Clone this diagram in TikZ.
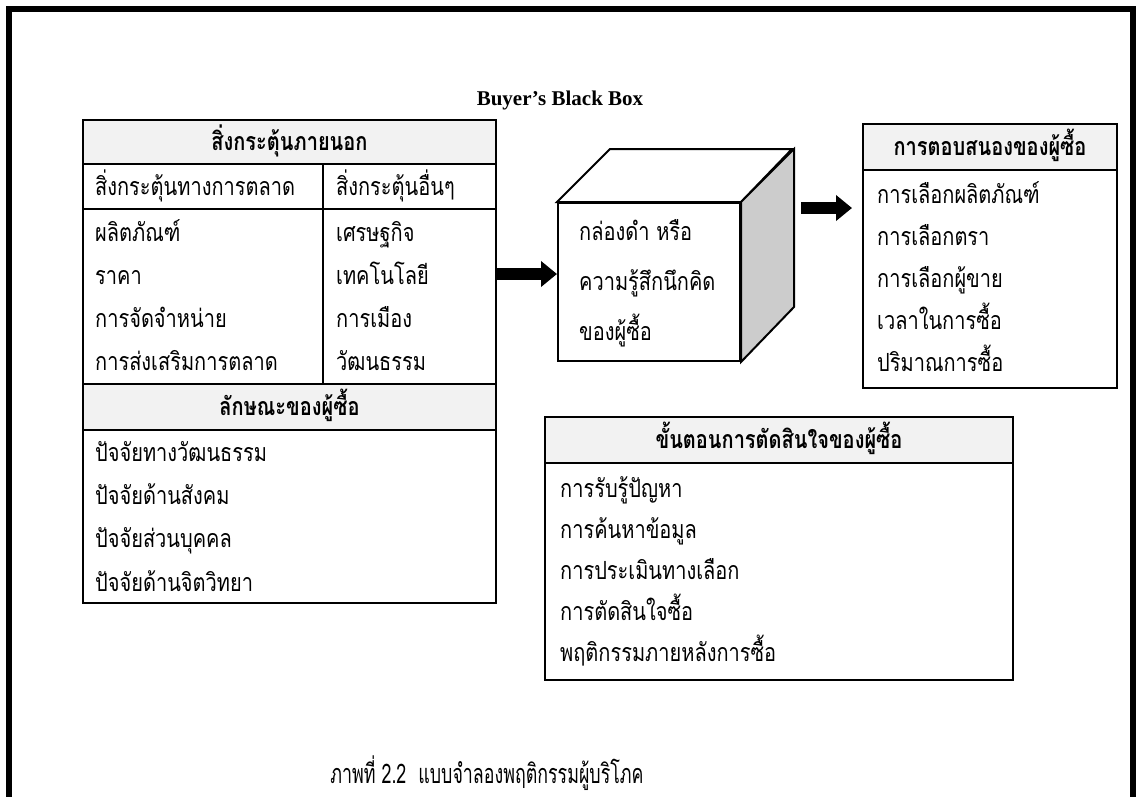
\documentclass[tikz,border=0pt]{standalone}
\usepackage{fontspec}
\setmainfont{Liberation Serif}
\newfontfamily\thaifont[Script=Thai,FakeStretch=0.8]{Loma}
\newfontfamily\thaicap[Script=Thai,FakeStretch=0.66]{Loma}
\usetikzlibrary{arrows.meta}
\definecolor{hdrgray}{HTML}{F2F2F2}
\definecolor{sidegray}{HTML}{CCCCCC}
\tikzset{
  tbl/.style={line width=2.2pt},
  hdr/.style={anchor=base, inner sep=0pt, font={\thaifont\bfseries\fontsize{25}{28}\selectfont}},
  itm/.style={anchor=base west, inner sep=0pt, font={\thaifont\fontsize{25}{28}\selectfont}},
  blockarrow/.style={line width=12pt, -{Triangle[width=25pt,length=16pt]}}
}
\begin{document}
\begin{tikzpicture}[x=1pt,y=-1pt]
\useasboundingbox (0,0) rectangle (1136,796);
\clip (0,0) rectangle (1136,796);
% outer frame
\draw[line width=6pt] (9,9) rectangle (1133,830);
\node[anchor=base, font={\bfseries\fontsize{21}{24}\selectfont}] (title) at (560,105) {Buyer’s Black Box};

% stimuli and buyer characteristics
\coordinate (stNW) at (83,120);
\coordinate (stSE) at (496,603);
\fill[hdrgray] (83,120) rectangle (496,164);
\fill[hdrgray] (83,384) rectangle (496,430);
\draw[tbl] (stNW) rectangle (stSE);
\foreach \y in {164,209,384,430} \draw[tbl] (83,\y) -- (496,\y);
\draw[tbl] (323,164) -- (323,384);
\node[hdr] (stH) at (289.5,150) {สิ่งกระตุ้นภายนอก};
\node[itm] (stMk) at (95,195) {สิ่งกระตุ้นทางการตลาด};
\node[itm] (stOt) at (336,195) {สิ่งกระตุ้นอื่นๆ};
\foreach \t [count=\i] in {ผลิตภัณฑ์,ราคา,การจัดจำหน่าย,การส่งเสริมการตลาด}
  \node[itm] (mk\i) at (95,{198+43*\i}) {\t};
\foreach \t [count=\i] in {เศรษฐกิจ,เทคโนโลยี,การเมือง,วัฒนธรรม}
  \node[itm] (ot\i) at (336,{198+43*\i}) {\t};
\node[hdr] (byH) at (289.5,415) {ลักษณะของผู้ซื้อ};
\foreach \t [count=\i] in {ปัจจัยทางวัฒนธรรม,ปัจจัยด้านสังคม,ปัจจัยส่วนบุคคล,ปัจจัยด้านจิตวิทยา}
  \node[itm] (by\i) at (95,{418+43.3*\i}) {\t};

% black box
\node[draw, line width=2pt, minimum width=182pt, minimum height=158pt, inner sep=0pt] (cube) at (649,282) {};
\draw[line width=2pt, fill=white] (cube.north west) -- ++(53,-53) -- ++(182,0) -- (cube.north east) -- cycle;
\draw[line width=2pt, fill=sidegray] (cube.north east) -- ++(53,-53) -- ++(0,158) -- (cube.south east) -- cycle;
\foreach \t [count=\i] in {กล่องดำ หรือ,ความรู้สึกนึกคิด,ของผู้ซื้อ}
  \node[itm] (bb\i) at (579,{190+50*\i}) {\t};

% responses
\fill[hdrgray] (863,124) rectangle (1117,170);
\draw[tbl] (863,124) rectangle (1117,388);
\draw[tbl] (863,170) -- (1117,170);
\node[hdr] (rsH) at (990,155) {การตอบสนองของผู้ซื้อ};
\foreach \t [count=\i] in {การเลือกผลิตภัณฑ์,การเลือกตรา,การเลือกผู้ขาย,เวลาในการซื้อ,ปริมาณการซื้อ}
  \node[itm] (rs\i) at (877,{162+41.8*\i}) {\t};

% decision process
\fill[hdrgray] (545,417) rectangle (1013,463);
\draw[tbl] (545,417) rectangle (1013,680);
\draw[tbl] (545,463) -- (1013,463);
\node[hdr] (dcH) at (779,448) {ขั้นตอนการตัดสินใจของผู้ซื้อ};
\foreach \t [count=\i] in {การรับรู้ปัญหา,การค้นหาข้อมูล,การประเมินทางเลือก,การตัดสินใจซื้อ,พฤติกรรมภายหลังการซื้อ}
  \node[itm] (dc\i) at (560,{456+41*\i}) {\t};

% arrows
\coordinate (a1s) at (496,274);
\draw[blockarrow] (a1s) -- (cube.west |- a1s);
\coordinate (a2s) at (801,208);
\coordinate (a2e) at (852,208);
\draw[blockarrow] (a2s) -- (a2e);

\node[anchor=base, font={\thaicap\fontsize{27}{30}\selectfont}] (cap) at (487,783) {ภาพที่ 2.2\ \ แบบจำลองพฤติกรรมผู้บริโภค};
\end{tikzpicture}
\end{document}
